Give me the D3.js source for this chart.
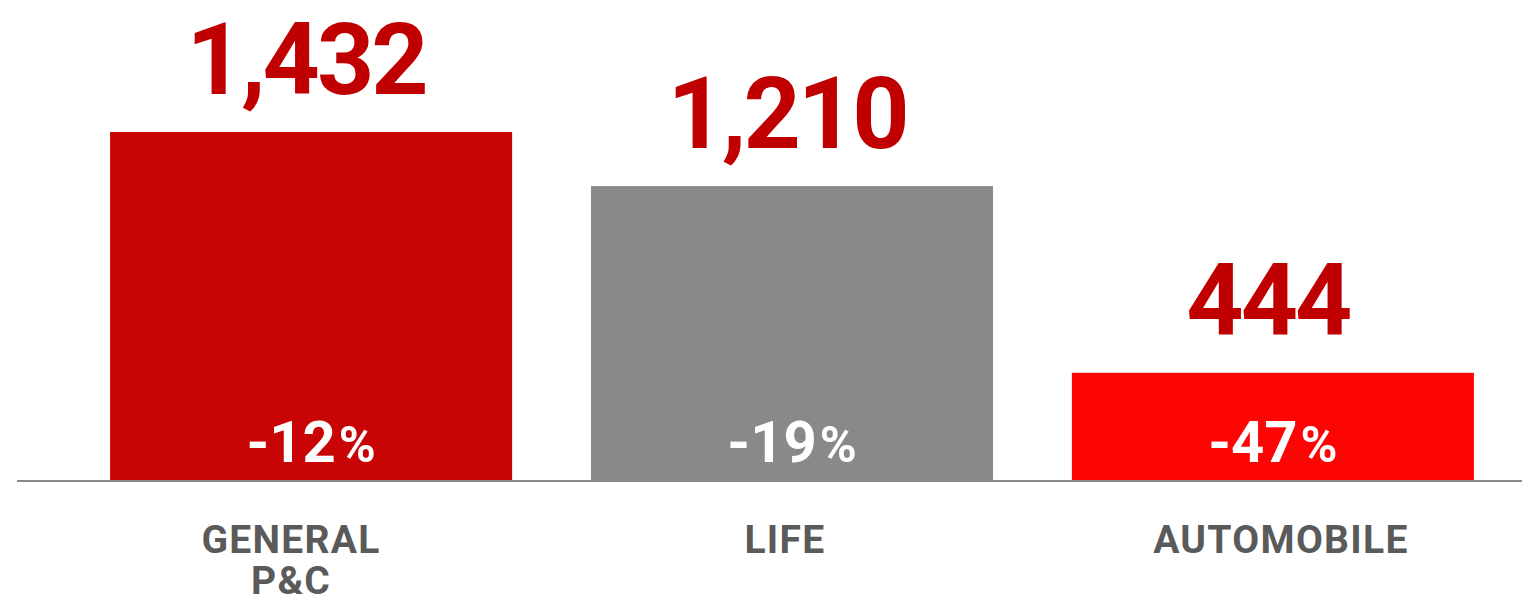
<!DOCTYPE html>
<html>
<head>
<meta charset="utf-8">
<script src="https://cdn.jsdelivr.net/npm/d3@7"></script>
<style>
  html, body { margin: 0; padding: 0; background: #fff; }
  svg { display: block; }
  text { font-family: Roboto, "DejaVu Sans", sans-serif; font-weight: 700; }
</style>
</head>
<body>
<svg id="chart" width="1522" height="597"></svg>
<script>
// Premiums by line of business, with year-on-year change
const categories = ["GENERAL P&C", "LIFE", "AUTOMOBILE"];
const labelLines = [["GENERAL", "P&C"], ["LIFE"], ["AUTOMOBILE"]];
const values = [1432, 1210, 444];
const changes = ["-12%", "-19%", "-47%"];
const barColors = ["#c80404", "#898989", "#fc0505"];

const width = 1522, height = 597;
const baseY = 481;

const svg = d3.select("#chart");

const x = d3.scaleBand()
  .domain(categories)
  .range([62, 1522])
  .paddingInner(0.164)
  .paddingOuter(0.1);

const y = d3.scaleLinear()
  .domain([0, 1432])
  .range([baseY, 132]);

const data = categories.map((c, i) => ({
  cat: c, value: values[i], change: changes[i], color: barColors[i], lines: labelLines[i]
}));

// bars
svg.append("g").selectAll("rect")
  .data(data)
  .join("rect")
  .attr("x", d => x(d.cat))
  .attr("y", d => y(d.value))
  .attr("width", x.bandwidth())
  .attr("height", d => baseY - y(d.value))
  .attr("fill", d => d.color);

// baseline
svg.append("line")
  .attr("x1", 17).attr("x2", width)
  .attr("y1", baseY).attr("y2", baseY)
  .attr("stroke", "#8a8a8a")
  .attr("stroke-width", 2);

// value labels above bars
svg.append("g").selectAll("text")
  .data(data)
  .join("text")
  .attr("x", d => x(d.cat) + x.bandwidth() / 2 - 5)
  .attr("y", d => y(d.value) - 38)
  .attr("text-anchor", "middle")
  .attr("font-size", 100)
  .attr("letter-spacing", -3)
  .attr("fill", "#c00000")
  .text(d => d3.format(",")(d.value));

// change labels inside bars
const chg = svg.append("g").selectAll("text")
  .data(data)
  .join("text")
  .attr("x", d => x(d.cat) + x.bandwidth() / 2)
  .attr("y", baseY - 19)
  .attr("text-anchor", "middle")
  .attr("font-size", 58)
  .attr("fill", "#ffffff");
chg.append("tspan").text(d => d.change.slice(0, -1));
chg.append("tspan").attr("font-size", 50).attr("dx", 3).text("%");

// category labels
const offsets = [-20, -7, 8];
const cat = svg.append("g").selectAll("text")
  .data(data)
  .join("text")
  .attr("x", (d, i) => x(d.cat) + x.bandwidth() / 2 + offsets[i])
  .attr("y", 553)
  .attr("text-anchor", "middle")
  .attr("font-size", 39)
  .attr("letter-spacing", 1.3)
  .attr("fill", "#5a5a5a");
cat.selectAll("tspan")
  .data(d => d.lines.map((l, j) => ({ l, j })))
  .join("tspan")
  .attr("x", function () { return this.parentNode.getAttribute("x"); })
  .attr("dy", d => d.j === 0 ? 0 : 41)
  .text(d => d.l);
</script>
</body>
</html>
